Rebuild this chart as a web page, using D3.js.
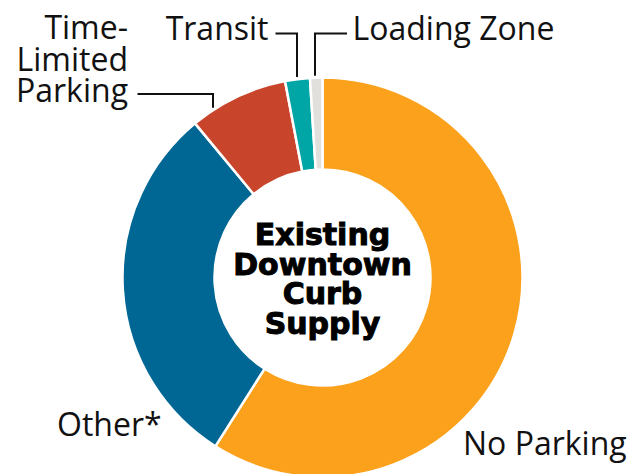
<!DOCTYPE html>
<html lang="en">
<head>
    <meta charset="UTF-8">
    <title>Existing Downtown Curb Supply</title>
    <script src="https://d3js.org/d3.v7.min.js"></script>
    <style>
        body {
            margin: 0;
            padding: 0;
            background: #ffffff;
            overflow: hidden;
        }

        .label {
            font-family: "Open Sans", sans-serif;
            font-size: 32px;
            fill: #111;
        }

        .center-title {
            font-family: "DejaVu Sans", sans-serif;
            font-weight: bold;
            font-size: 30px;
            fill: #000;
            stroke: #000;
            stroke-width: 1;
            text-anchor: middle;
        }

        .leader {
            fill: none;
            stroke: #111;
            stroke-width: 2;
        }
    </style>
</head>
<body>
    <script>
        // Données (part de la bordure, en %)
        const categories = ["No Parking", "Other*", "Time-Limited Parking", "Transit", "Loading Zone"];
        const shares = [59, 30, 8, 2, 1];
        const colors = ["#fba11b", "#006794", "#c8452b", "#00a6a6", "#e2e0dc"];
        const titleLines = ["Existing", "Downtown", "Curb", "Supply"];

        const width = 628;
        const height = 474;
        const cx = 322.5, cy = 277.5;
        const outerR = 200, innerR = 108;

        const svg = d3.select("body")
            .append("svg")
            .attr("width", width)
            .attr("height", height);

        const g = svg.append("g")
            .attr("transform", `translate(${cx},${cy})`);

        const pie = d3.pie().sort(null).value(d => d.value);
        const arc = d3.arc().innerRadius(innerR).outerRadius(outerR);

        const data = categories.map((c, i) => ({ name: c, value: shares[i], color: colors[i] }));

        g.selectAll("path.slice")
            .data(pie(data))
            .enter()
            .append("path")
            .attr("class", "slice")
            .attr("d", arc)
            .attr("fill", d => d.data.color)
            .attr("stroke", "#fff")
            .attr("stroke-width", 2.5);

        // Titre au centre
        const title = g.append("text").attr("class", "center-title");
        titleLines.forEach((t, i) => {
            title.append("tspan")
                .attr("x", 0)
                .attr("y", (i - 1.5) * 29.5 + 12)
                .text(t);
        });

        // Étiquettes (positions relatives au centre)
        const labels = [
            { name: "No Parking", lines: ["No Parking"], x: 140.5, y: 177.5, anchor: "start" },
            { name: "Other*", lines: ["Other*"], x: -265.5, y: 158.5, anchor: "start" },
            { name: "Time-Limited Parking", lines: ["Time-", "Limited", "Parking"], x: -194.5, y: -238.5, anchor: "end",
              leader: { from: -185, at: -183.5, elbow: -109.5 } },
            { name: "Transit", lines: ["Transit"], x: -54, y: -238, anchor: "end",
              leader: { from: -47, at: -244, elbow: -25.5 } },
            { name: "Loading Zone", lines: ["Loading Zone"], x: 30, y: -238, anchor: "start",
              leader: { from: 24.5, at: -244, elbow: -7.5 } }
        ];

        labels.forEach(l => {
            const t = g.append("text")
                .attr("class", "label")
                .attr("text-anchor", l.anchor);
            l.lines.forEach((line, i) => {
                t.append("tspan")
                    .attr("x", l.x)
                    .attr("y", l.y + i * 31.5)
                    .text(line);
            });
            if (l.leader) {
                // la ligne descend jusqu'au bord extérieur de l'anneau
                const yEnd = -Math.sqrt((outerR + 2) ** 2 - l.leader.elbow ** 2);
                g.append("path")
                    .attr("class", "leader")
                    .attr("d", d3.line()([
                        [l.leader.from, l.leader.at],
                        [l.leader.elbow, l.leader.at],
                        [l.leader.elbow, yEnd]
                    ]));
            }
        });
    </script>
</body>
</html>
